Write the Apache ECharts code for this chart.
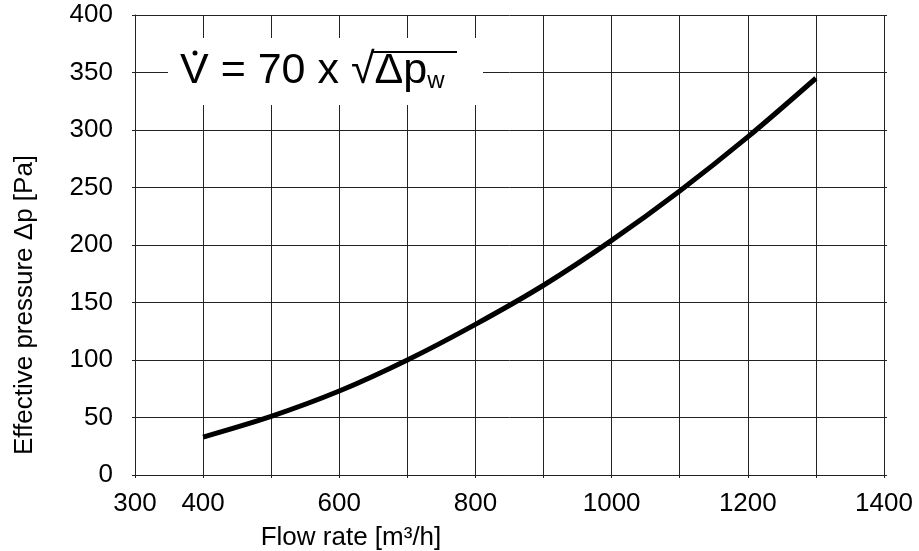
<!DOCTYPE html>
<html>
<head>
<meta charset="utf-8">
<script src="https://cdn.jsdelivr.net/npm/echarts@6/dist/echarts.min.js"></script>
<style>
  html, body { margin: 0; padding: 0; background: #fff; }
  #chart { width: 919px; height: 551px; }
</style>
</head>
<body>
<div id="chart"></div>
<script>
// flow rate [m3/h] and effective pressure [Pa]
var flowRate = [400, 500, 600, 700, 800, 900, 1000, 1100, 1200, 1300];
var pressure = [33, 51, 73, 100, 131, 165, 204, 247, 294, 345];
var xShownLabels = [300, 400, 600, 800, 1000, 1200, 1400];

var font = 'Liberation Sans, Arial, sans-serif';
var lineCol = '#222';

var chart = echarts.init(document.getElementById('chart'));

var points = [];
for (var i = 0; i < flowRate.length; i++) {
    points.push([flowRate[i], pressure[i]]);
}

var option = {
    animation: false,
    backgroundColor: '#fff',
    grid: { left: 135, right: 35, top: 15, bottom: 76 },
    xAxis: [
        {
            type: 'value', min: 300, max: 1400, interval: 100,
            axisLine: { show: true, onZero: false, lineStyle: { color: lineCol, width: 1 } },
            axisTick: { show: true, length: 3, lineStyle: { color: lineCol } },
            splitLine: { show: true, lineStyle: { color: lineCol, width: 1 } },
            axisLabel: {
                color: '#000', fontSize: 26, fontFamily: font, margin: 16,
                formatter: function (v) { return xShownLabels.indexOf(v) >= 0 ? String(v) : ''; }
            }
        },
        {
            // only for the little grid stubs above the top edge
            type: 'value', position: 'top', min: 300, max: 1400, interval: 100,
            axisLine: { show: false },
            axisTick: { show: true, length: 8, lineStyle: { color: lineCol } },
            axisLabel: { show: false },
            splitLine: { show: false }
        }
    ],
    yAxis: [
        {
            type: 'value', min: 0, max: 400, interval: 50,
            axisLine: { show: true, lineStyle: { color: lineCol, width: 1 } },
            axisTick: { show: true, length: 3, lineStyle: { color: lineCol } },
            splitLine: { show: true, lineStyle: { color: lineCol, width: 1 } },
            axisLabel: { color: '#000', fontSize: 26, fontFamily: font, margin: 22 }
        },
        {
            type: 'value', position: 'right', min: 0, max: 400, interval: 50,
            axisLine: { show: false },
            axisTick: { show: true, length: 3, lineStyle: { color: lineCol } },
            axisLabel: { show: false },
            splitLine: { show: false }
        }
    ],
    series: [
        {
            type: 'line',
            data: points,
            smooth: 0.3,
            showSymbol: false,
            lineStyle: { color: '#000', width: 5 },
            z: 3
        }
    ],
    graphic: [
        // axis names
        {
            type: 'text', x: 351, y: 538,
            style: {
                text: 'Flow rate [m³/h]', fill: '#000', font: '26px ' + font,
                align: 'center', verticalAlign: 'middle'
            }
        },
        {
            type: 'text', x: 25, y: 305, rotation: Math.PI / 2,
            style: {
                text: 'Effective pressure Δp [Pa]', fill: '#000', font: '26px ' + font,
                align: 'center', verticalAlign: 'middle'
            }
        },
        // formula box
        {
            type: 'rect', shape: { x: 168, y: 38, width: 315, height: 67 },
            style: { fill: '#fff' }, z: 10
        },
        {
            type: 'text', x: 180, y: 93, z: 11,
            style: {
                text: 'V = 70 x √{d|Δp}{s|w}',
                fill: '#000', font: '43px ' + font,
                verticalAlign: 'bottom',
                rich: {
                    d: { fontSize: 43, fontFamily: font },
                    s: { fontSize: 24, fontFamily: font, verticalAlign: 'bottom' }
                }
            }
        },
        {
            type: 'circle', shape: { cx: 195, cy: 53, r: 2.5 },
            style: { fill: '#000' }, z: 11
        },
        {
            type: 'line', shape: { x1: 371, y1: 52, x2: 457, y2: 52 },
            style: { stroke: '#000', lineWidth: 2 }, z: 11
        }
    ]
};

chart.setOption(option);
</script>
</body>
</html>
